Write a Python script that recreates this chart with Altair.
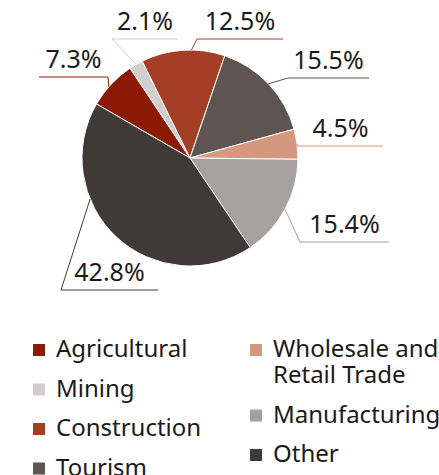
import math
import altair as alt
import pandas as pd

# ---- data ----
CATEGORIES = ["Agricultural", "Mining", "Construction", "Tourism",
              "Wholesale and Retail Trade", "Manufacturing", "Other"]
SHARES = [7.3, 2.1, 12.5, 15.5, 4.5, 15.4, 42.8]
LABELS = ["7.3%", "2.1%", "12.5%", "15.5%", "4.5%", "15.4%", "42.8%"]

# ---- styles ----
COLORS = ["#8c1a04", "#d2cecd", "#a43e25", "#5e5552", "#d49780", "#a6a19e", "#3f3a37"]
FONT = "Noto Sans"
TEXT_COLOR = "#1a1a1a"

# ---- layout ----
W, H = 439, 475
CX, CY, R = 190, 158, 108
START_RAD = math.radians(300)          # first slice starts at 10 o'clock
LEADER_FRAC = [0.43, 0.5, 0.6, 0.5, 0.5, 0.5, 0.66]   # where along the slice the leader starts
ELBOW_X = [108, 112, 197, 288, 298, 300, 61]
ELBOW_Y = [77, 39, 39, 78, 146, 242, 290]
LINE_END_X = [39, 178, 283, 369, 383, 389, 158]

TOTAL = sum(SHARES)

df = pd.DataFrame({
    "idx": list(range(len(CATEGORIES))),
    "cat": CATEGORIES,
    "share": SHARES,
    "label": LABELS,
    "frac": LEADER_FRAC,
    "ex": ELBOW_X,
    "ey": ELBOW_Y,
    "lx": LINE_END_X,
})

base = (
    alt.Chart(df)
    .transform_window(cum="sum(share)", sort=[alt.SortField("idx")], frame=[None, 0])
    .transform_calculate(start="datum.cum - datum.share")
    .transform_calculate(ang=f"{START_RAD} + (datum.start + datum.frac*datum.share)/{TOTAL}*2*PI")
    .transform_calculate(ax=f"{CX} + {R}*sin(datum.ang)")
    .transform_calculate(ay=f"{CY} - {R}*cos(datum.ang)")
    .transform_calculate(tx="(datum.ex + datum.lx)/2")
    .transform_calculate(ty="datum.ey - 9")
)

theta_scale = alt.Scale(domain=[0, TOTAL], range=[START_RAD, START_RAD + 2 * math.pi])
xs = alt.Scale(domain=[0, W], range=[0, W])
ys = alt.Scale(domain=[0, H], range=[0, H])


def legend(x, y):
    return alt.Legend(
        title=None, orient="none", legendX=x, legendY=y,
        symbolType="square", symbolSize=144, symbolStrokeWidth=0,
        labelFont=FONT, labelFontSize=24, labelColor=TEXT_COLOR,
        labelOffset=5, rowPadding=15.5, padding=0, labelLimit=400,
        labelExpr="datum.label == 'Wholesale and Retail Trade' ? ['Wholesale and', 'Retail Trade'] : datum.label",
    )


def arcs(cats, cols, lx, ly):
    return base.transform_filter(
        alt.FieldOneOfPredicate(field="cat", oneOf=cats)
    ).mark_arc(radius=R, stroke="white", strokeWidth=1).encode(
        theta=alt.Theta("start:Q", scale=theta_scale),
        theta2="cum:Q",
        x=alt.value(CX),
        y=alt.value(CY),
        color=alt.Color("cat:N", scale=alt.Scale(domain=cats, range=cols), legend=legend(lx, ly)),
    )


arcs_a = arcs(CATEGORIES[:4], COLORS[:4], 27, 338)
arcs_b = arcs(CATEGORIES[4:], COLORS[4:], 244, 338)

line_color = alt.Color("cat:N", scale=alt.Scale(domain=CATEGORIES, range=COLORS), legend=None)

leader = base.mark_rule(strokeWidth=1).encode(
    x=alt.X("ax:Q", scale=xs, axis=None),
    y=alt.Y("ay:Q", scale=ys, axis=None),
    x2="ex:Q",
    y2="ey:Q",
    color=line_color,
)
underline = base.mark_rule(strokeWidth=1).encode(
    x=alt.X("ex:Q", scale=xs, axis=None),
    x2="lx:Q",
    y=alt.Y("ey:Q", scale=ys, axis=None),
    color=line_color,
)
text = base.mark_text(font=FONT, fontSize=25, align="center", baseline="alphabetic",
                      color=TEXT_COLOR).encode(
    x=alt.X("tx:Q", scale=xs, axis=None),
    y=alt.Y("ty:Q", scale=ys, axis=None),
    text="label:N",
)

chart = (
    alt.layer(arcs_a, arcs_b, leader, underline, text)
    .resolve_scale(color="independent")
    .properties(width=W, height=H, autosize="none", padding=0, background="white")
    .configure_view(stroke=None)
)

chart.save("out.html", embed_options={"renderer": "svg", "actions": False})
